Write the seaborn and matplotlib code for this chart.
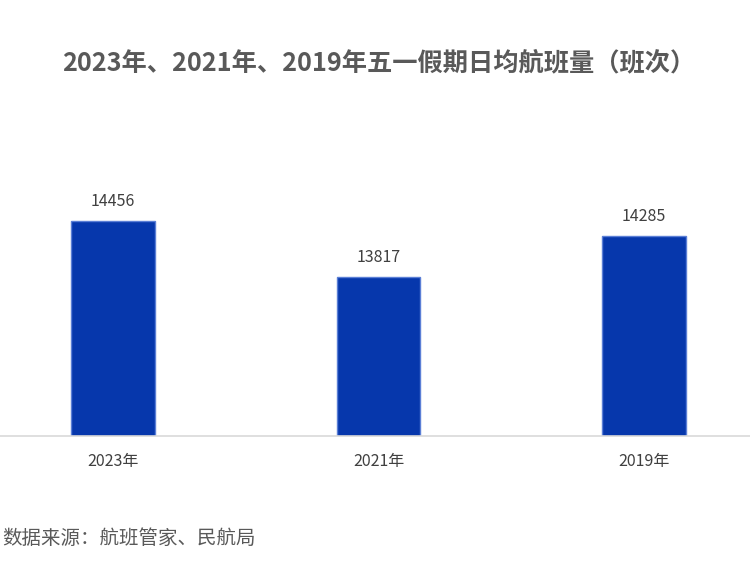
import matplotlib
matplotlib.use("Agg")
import matplotlib.pyplot as plt
import seaborn as sns
import pandas as pd

categories = ["2023年", "2021年", "2019年"]
values = [14456, 13817, 14285]
title = "2023年、2021年、2019年五一假期日均航班量（班次）"
source = "数据来源：航班管家、民航局"

sns.set_theme(style="white")
plt.rcParams['font.family'] = ['Noto Sans CJK SC', 'DejaVu Sans']

df = pd.DataFrame({"year": categories, "value": values})

fig = plt.figure(figsize=(7.5, 5.61), dpi=100)
ax = fig.add_axes([0.0, 1 - 436 / 561, 1.0, (436 - 173) / 561])
sns.barplot(data=df, x="year", y="value", ax=ax, color="#0637AC",
            width=0.316, edgecolor="#5B7FD6", linewidth=1.0, saturation=1)
ax.set_ylim(12000, 15000)
ax.set_xlim(-0.426, 2.40)
for i, v in enumerate(values):
    ax.annotate(f"{v}", (i, v), xytext=(0, 8), textcoords="offset points",
                ha="center", va="bottom", fontsize=11.5, color="#404040")
for s in ["left", "right", "top"]:
    ax.spines[s].set_visible(False)
ax.spines["bottom"].set_color("#D9D9D9")
ax.spines["bottom"].set_linewidth(1.2)
ax.set_yticks([])
ax.set_xlabel("")
ax.set_ylabel("")
ax.tick_params(axis="x", length=0, pad=12, labelsize=11.5, labelcolor="#404040")

fig.text(0.505, 1 - 63 / 561, title, ha="center", va="center",
         fontsize=18.2, fontweight="bold", color="#595959")
fig.text(0.003, 1 - 538 / 561, source, ha="left", va="center",
         fontsize=14, color="#595959")

fig.savefig("out.png", dpi=100)
